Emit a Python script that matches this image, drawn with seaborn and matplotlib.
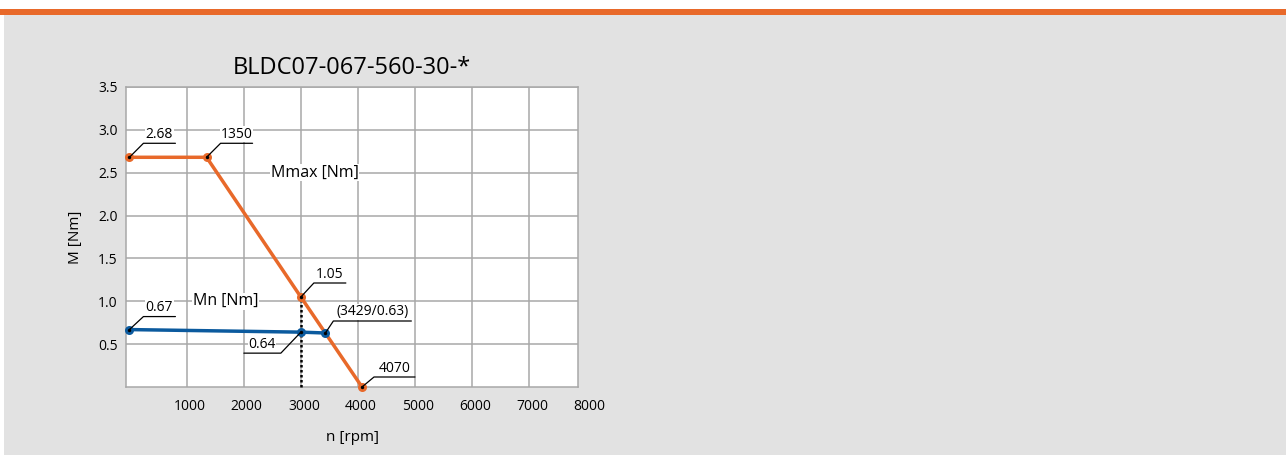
import numpy as np
import pandas as pd
import matplotlib
matplotlib.use("Agg")
import matplotlib.pyplot as plt
import matplotlib.transforms as mtransforms
from matplotlib.patches import Rectangle
import seaborn as sns

sns.set_style("whitegrid")
plt.rcParams['font.family'] = ['Open Sans', 'DejaVu Sans']
plt.rcParams['text.color'] = 'black'
plt.rcParams['axes.labelcolor'] = 'black'

# data
mmax_n = [0, 1350, 3000, 4070]
mmax_m = [2.68, 2.68, 1.05, 0.0]
mmax_lbl = ["2.68", "1350", "1.05", "4070"]

mn_n = [0, 3000, 3429]
mn_m = [0.67, 0.64, 0.63]
mn_lbl = ["0.67", "0.64", "(3429/0.63)"]

rated_n = 3000
x_ticks = [1000, 2000, 3000, 4000, 5000, 6000, 7000]
y_ticks = [0.5, 1.0, 1.5, 2.0, 2.5, 3.0, 3.5]

ORANGE = "#e8692a"
BLUE = "#0b5a9e"
GRID = "#a8a8a8"

fig = plt.figure(figsize=(12.86, 4.55), dpi=100, facecolor="white")
# page background + orange band
fig.patches.append(Rectangle((4/1286, 0), 1, 1 - 15/455, transform=fig.transFigure,
                             facecolor="#e2e2e2", edgecolor="none", zorder=-10))
fig.patches.append(Rectangle((0, 1 - 15/455), 1, 6/455, transform=fig.transFigure,
                             facecolor=ORANGE, edgecolor="none", zorder=-10))

ax = fig.add_axes([126/1286, 1 - 387/455, (578 - 126)/1286, (387 - 87)/455])
ax.set_facecolor("white")

df_max = pd.DataFrame({"n": mmax_n, "M": mmax_m})
df_n = pd.DataFrame({"n": mn_n, "M": mn_m})

# rated speed dotted line
ax.plot([rated_n, rated_n], [0, mmax_m[2]], color="black", ls=(0, (1, 1)), lw=1.8, zorder=3)

for df, col in [(df_max, ORANGE), (df_n, BLUE)]:
    sns.lineplot(data=df, x="n", y="M", ax=ax, color=col, lw=2.5, sort=False,
                 marker="o", markersize=6.5, markeredgewidth=0, zorder=4)
    sns.scatterplot(data=df, x="n", y="M", ax=ax, color="black", s=6, linewidth=0,
                    zorder=6, clip_on=False)
for ln in ax.lines:
    ln.set_clip_on(False)

ax.set_xlim(-60, 7850)
ax.set_ylim(0, 3.5)
ax.set_xticks(x_ticks)
ax.set_yticks(y_ticks)
ax.tick_params(axis="both", length=0, labelsize=10, colors="black")
ax.tick_params(axis="x", pad=9)
ax.tick_params(axis="y", pad=6)
for lab in ax.get_xticklabels():
    lab.set_transform(lab.get_transform() + mtransforms.ScaledTranslation(3/100, 0, fig.dpi_scale_trans))
ax.grid(True, color=GRID, lw=1.1)
for s in ax.spines.values():
    s.set_color(GRID)
    s.set_linewidth(1.1)

# 8000 sits past the right edge of the grid
ax.text(8000, 0, "8000", ha="center", va="top", fontsize=10, clip_on=False,
        transform=ax.get_xaxis_transform() + mtransforms.ScaledTranslation(
            3/100, -9/72, fig.dpi_scale_trans))

ax.set_xlabel("n [rpm]", fontsize=11, labelpad=11)
ax.set_ylabel("M [Nm]", fontsize=11, labelpad=11)
ax.set_title("BLDC07-067-560-30-*", fontsize=17, pad=9)

# leader lines with underlined values (offsets in pixels)
def leader(x, y, text, dx, dy, length):
    tr = mtransforms.Affine2D() + mtransforms.ScaledTranslation(x, y, ax.transData)
    ax.plot([0, dx, dx + length], [0, dy, dy], color="black", lw=0.9,
            transform=tr, clip_on=False, zorder=5)
    ax.text(dx + length / 2, dy + 1.5, text, transform=tr, ha="center", va="bottom",
            fontsize=10, clip_on=False, zorder=5,
            bbox=dict(facecolor="white", edgecolor="none", pad=0.3))

mmax_off = [(14, 14, 32), (14, 14, 32), (13, 14, 32), (12, 10, 41)]
mn_off = [(14, 13, 32), (-20, -21, -37), (8, 12, 78)]
for n, m, t, o in zip(mmax_n, mmax_m, mmax_lbl, mmax_off):
    leader(n, m, t, *o)
for n, m, t, o in zip(mn_n, mn_m, mn_lbl, mn_off):
    leader(n, m, t, *o)

ax.text(3240, 2.5, "Mmax [Nm]", ha="center", va="center", fontsize=11.5, zorder=3,
        bbox=dict(facecolor="white", edgecolor="none", pad=0.5))
ax.text(1680, 1.0, "Mn [Nm]", ha="center", va="center", fontsize=11.5, zorder=3,
        bbox=dict(facecolor="white", edgecolor="none", pad=0.5))

fig.savefig("out.png", dpi=100, facecolor=fig.get_facecolor())
